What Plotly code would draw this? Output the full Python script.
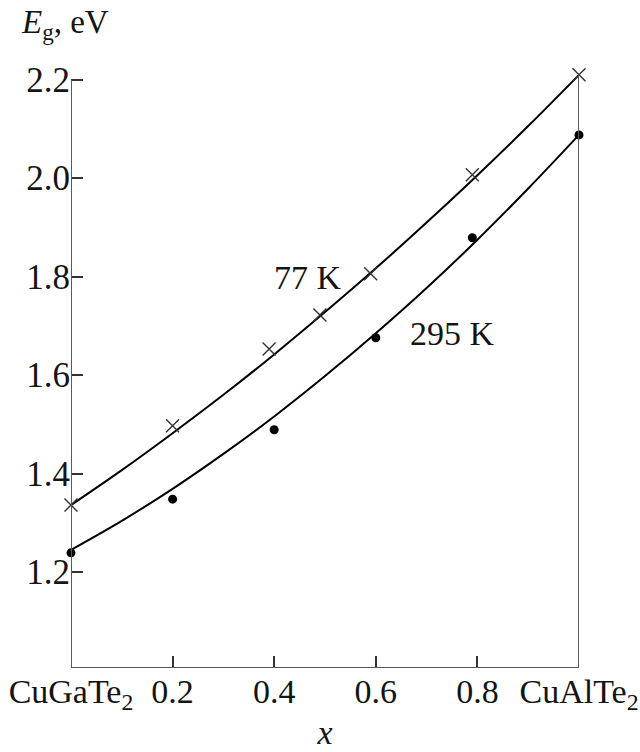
import plotly.graph_objects as go

# Band gap of CuGa(1-x)Al(x)Te2 solid solutions
x_77 = [0.0, 0.2, 0.39, 0.49, 0.59, 0.79, 1.0]
eg_77 = [1.336, 1.497, 1.653, 1.722, 1.806, 2.007, 2.21]

x_295 = [0.0, 0.2, 0.4, 0.6, 0.79, 1.0]
eg_295 = [1.239, 1.348, 1.489, 1.676, 1.879, 2.088]

# smooth fitted curves, sampled every 0.1
x_fit = [0.0, 0.1, 0.2, 0.3, 0.4, 0.5, 0.6, 0.7, 0.8, 0.9, 1.0]
fit_77 = [1.336, 1.407, 1.482, 1.560, 1.642, 1.728, 1.817, 1.910, 2.006, 2.106, 2.210]
fit_295 = [1.245, 1.304, 1.369, 1.440, 1.516, 1.598, 1.685, 1.777, 1.875, 1.979, 2.088]

x_ticks = [0.0, 0.2, 0.4, 0.6, 0.8, 1.0]
x_ticklabels = ["CuGaTe<sub>2</sub>", "0.2", "0.4", "0.6", "0.8", "CuAlTe<sub>2</sub>"]
y_ticks = [1.2, 1.4, 1.6, 1.8, 2.0, 2.2]
y_ticklabels = ["1.2", "1.4", "1.6", "1.8", "2.0", "2.2"]

Y_MIN, Y_MAX = 1.005, 2.23
AXIS_COLOR = "#5a5a5a"
TEXT_COLOR = "#141414"
FONT = "Liberation Serif, Times New Roman, serif"

fig = go.Figure()

fig.add_trace(go.Scatter(x=x_fit, y=fit_77, mode="lines", line=dict(color="black", width=2, shape="spline"),
                         hoverinfo="skip", showlegend=False))
fig.add_trace(go.Scatter(x=x_fit, y=fit_295, mode="lines", line=dict(color="black", width=2, shape="spline"),
                         hoverinfo="skip", showlegend=False))
fig.add_trace(go.Scatter(x=x_77, y=eg_77, mode="markers", cliponaxis=False,
                         marker=dict(symbol="x-thin", size=13, line=dict(color="#333333", width=1.4)),
                         showlegend=False, name="77 K"))
fig.add_trace(go.Scatter(x=x_295, y=eg_295, mode="markers", cliponaxis=False,
                         marker=dict(symbol="circle", size=9, color="black"),
                         showlegend=False, name="295 K"))

# frame: left and bottom axes, plus the vertical line at x = 1
fig.add_shape(type="line", x0=0, x1=0, y0=Y_MIN, y1=2.2, line=dict(color=AXIS_COLOR, width=2))
fig.add_shape(type="line", x0=0, x1=1, y0=Y_MIN, y1=Y_MIN, line=dict(color=AXIS_COLOR, width=2))
fig.add_shape(type="line", x0=1, x1=1, y0=Y_MIN, y1=eg_77[-1], line=dict(color=AXIS_COLOR, width=2))

fig.add_annotation(x=0.467, y=1.798, text="77 K", showarrow=False,
                   font=dict(family=FONT, size=34, color=TEXT_COLOR))
fig.add_annotation(x=0.75, y=1.684, text="295 K", showarrow=False,
                   font=dict(family=FONT, size=34, color=TEXT_COLOR))
fig.add_annotation(xref="paper", yref="paper", x=-0.102, y=1.105, xanchor="left", yanchor="top",
                   text="<i>E</i><sub>g</sub>, eV", showarrow=False,
                   font=dict(family=FONT, size=33, color=TEXT_COLOR))

fig.update_xaxes(range=[0, 1], tickvals=x_ticks, ticktext=x_ticklabels,
                 ticks="inside", ticklen=12, tickwidth=1.5, tickcolor="#333333",
                 showline=False, showgrid=False, zeroline=False, automargin=False,
                 ticklabeloverflow="allow",
                 tickfont=dict(family=FONT, size=34, color=TEXT_COLOR),
                 title=dict(text="<i>x</i>", font=dict(family=FONT, size=34, color=TEXT_COLOR), standoff=6))
fig.update_yaxes(range=[Y_MIN, Y_MAX], tickvals=y_ticks, ticktext=y_ticklabels,
                 ticks="inside", ticklen=12, tickwidth=1.5, tickcolor="#333333",
                 showline=False, showgrid=False, zeroline=False, automargin=False,
                 ticklabeloverflow="allow",
                 tickfont=dict(family=FONT, size=35, color=TEXT_COLOR))

fig.update_layout(width=640, height=752, margin=dict(l=71, r=61, t=65, b=84),
                  plot_bgcolor="white", paper_bgcolor="white")

fig.write_html("out.html")
